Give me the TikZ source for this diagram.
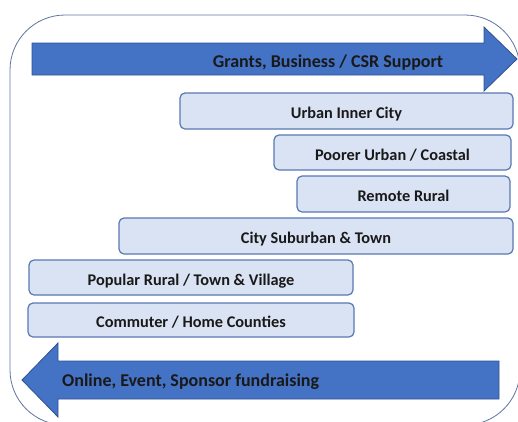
\documentclass[tikz,border=0pt]{standalone}
\usepackage{fontspec}
\setmainfont{Carlito}
\tikzset{
  zonebox/.style={draw=zoneline, fill=zonefill, line width=1.2pt, rounded corners=5pt,
    inner sep=0pt, text height=16pt, text depth=1pt,
    font=\fontsize{16.3}{18}\selectfont\bfseries, text=black!90},
  bigarrow/.style={fill=arrowblue, draw=arrowline, line width=0.8pt},
  arrowtext/.style={font=\fontsize{18}{20}\selectfont\bfseries, text=black!90, inner sep=0pt}
}
\begin{document}
\begin{tikzpicture}[x=1pt,y=-1pt]
\definecolor{zoneline}{RGB}{88,120,178}
\definecolor{zonefill}{RGB}{218,227,243}
\definecolor{arrowblue}{RGB}{68,114,196}
\definecolor{arrowline}{RGB}{47,82,143}
\definecolor{frameline}{RGB}{95,115,160}
\useasboundingbox (0,0) rectangle (518,421);
\draw [draw = frameline, line width = 0.8pt, rounded corners = 55pt] (10,15) rectangle (520,425);
% arrows
\draw [bigarrow] (32,43) -- (484,43) -- (484,27) -- (517,59) -- (484,91) -- (484,75) -- (32,75) -- cycle;
\node[arrowtext, anchor = base] (grants) at (328,67) {Grants, Business / CSR Support};
\draw [bigarrow] (499,361) -- (58,361) -- (58,343) -- (22,380) -- (58,417) -- (58,399) -- (499,399) -- cycle;
\node[arrowtext, anchor = base west] (online) at (62,386) {Online, Event, Sponsor fundraising};
% zones
\node[zonebox, minimum width = 333pt, minimum height = 36pt] (urban) at (346.5,111) {Urban Inner City};
\node[zonebox, minimum width = 237pt, minimum height = 35pt] (poorer) at (392.5,152.5) {Poorer Urban / Coastal};
\node[zonebox, minimum width = 213pt, minimum height = 36pt] (remote) at (403.5,194) {Remote Rural};
\node[zonebox, minimum width = 394pt, minimum height = 36pt] (suburban) at (316,236) {City Suburban \& Town};
\node[zonebox, minimum width = 324pt, minimum height = 35pt] (popular) at (191,277.5) {Popular Rural / Town \& Village};
\node[zonebox, minimum width = 326pt, minimum height = 34pt] (commuter) at (191,320) {Commuter / Home Counties};
\end{tikzpicture}
\end{document}
